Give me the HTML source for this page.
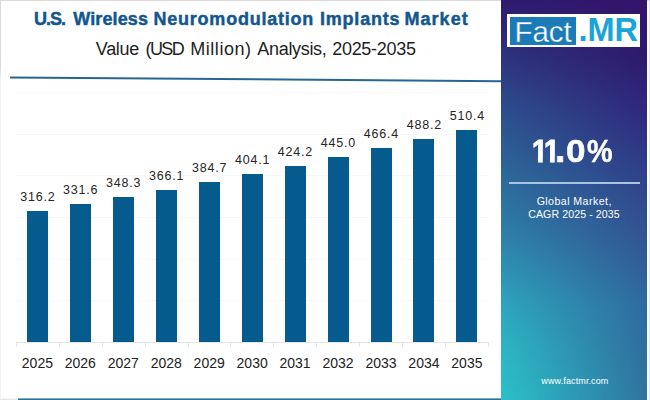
<!DOCTYPE html>
<html><head><meta charset="utf-8">
<style>
*{margin:0;padding:0;box-sizing:border-box}
html,body{width:650px;height:400px;overflow:hidden;background:#fff}
body{position:relative;font-family:"Liberation Sans",Arial,sans-serif}
.frame{position:absolute;left:0;top:0;width:650px;height:400px;border-top:1px solid #dadadc;border-left:1px solid #f2f2f4;border-right:1px solid #e6e6e8}
.lb{position:absolute;left:0;top:0;width:1px;height:80px;background:linear-gradient(180deg,#d8d8da 0%,#dcdcde 85%,#f2f2f4 100%)}
.title{position:absolute;top:8.0px;font-size:18px;font-weight:bold;color:#13578e;white-space:nowrap;line-height:22px;-webkit-text-stroke:0.45px #13578e}
.sub{position:absolute;top:38px;font-size:18px;color:#1e1e1e;white-space:nowrap;line-height:22px}
.panel{position:absolute;left:501px;top:0;width:146px;height:400px;
 background:linear-gradient(180deg,#2e1c6e 0px,#2e3580 60px,#2e4a8a 100px,#2d6799 170px,#2e7eaa 230px,#2ea6bd 305px,#2db6c2 346px,#2cc0c8 394px,#2cc0c8 400px)}
.panel2{position:absolute;left:501px;top:0;width:146px;height:400px;
 background:linear-gradient(180deg,#33146b 0px,#2e1b6c 60px,#30257a 100px,#2f3f88 170px,#33528f 230px,#2f6a9f 305px,#306d9e 346px,#2f74a0 394px,#2f74a0 400px);
 -webkit-mask-image:linear-gradient(90deg,transparent 0%,#000 100%);mask-image:linear-gradient(90deg,transparent 0%,#000 100%)}
.logo{position:absolute;left:506.5px;top:14px;width:133.5px;height:32.5px;background:#fff}
.logo .fb{position:absolute;left:3.5px;top:3px;width:66px;height:27.5px;background:#1a7bb7}
.logo .f{position:absolute;left:8px;top:1px;font-size:29.5px;line-height:33px;color:#fff;letter-spacing:-0.1px;-webkit-text-stroke:0.35px #1a7bb7}
.logo .mr{position:absolute;left:72px;top:-0.5px;font-size:32.5px;line-height:33px;color:#1ba4d8;font-weight:bold}
.cagr{position:absolute;left:501px;width:146px;text-align:center;color:#fff;white-space:nowrap}
.g{position:absolute;top:131.4px;font-size:32px;line-height:40px;font-weight:bold;color:#fff;-webkit-text-stroke:0.45px #fff;transform-origin:0 50%;white-space:nowrap}
.one{-webkit-text-stroke:1px #fff;clip-path:polygon(0 0,20px 0,20px 26.3px,12.4px 26.3px,12.4px 40px,6.9px 40px,6.9px 26.3px,0 26.3px)}
.sep{position:absolute;left:509px;top:182px;width:131px;height:1.5px;background:#a9c3e3}
.bar{position:absolute;width:21px;background:#055a8e}
.vl{position:absolute;width:60px;text-align:center;font-size:12.5px;color:#262626;line-height:14px;letter-spacing:0.8px;text-indent:0.8px}
.xl{position:absolute;width:60px;text-align:center;font-size:14px;color:#222;line-height:16px}
.grid{position:absolute;left:15px;width:473px;height:1px;background:#f8f7f7}
.axis{position:absolute;left:16px;top:342px;width:473px;height:1px;background:#e4e4e4}
.tick{position:absolute;top:342px;width:1px;height:4.5px;background:#e4e4e4}
.bottombar{position:absolute;left:18px;top:398px;width:483px;height:2px;background:linear-gradient(180deg,#76aecb 0,#76aecb 1px,#306e94 1px)}
.blg{position:absolute;left:0;top:398px;width:18px;height:2px;background:linear-gradient(180deg,#f4f4f4 0,#f4f4f4 1px,#e6e6e6 1px)}
</style></head><body>
<div class="frame"></div><div class="lb"></div>
<span class="title" style="left:33.9px;letter-spacing:-0.969px">U.S.</span> <span class="title" style="left:73.2px;letter-spacing:0.133px">Wireless</span> <span class="title" style="left:153.5px;letter-spacing:0.772px">Neuromodulation</span> <span class="title" style="left:319.9px;letter-spacing:0.814px">Implants</span> <span class="title" style="left:404.5px;letter-spacing:1.034px">Market</span>
<span class="sub" style="left:95.8px;letter-spacing:-0.323px">Value</span> <span class="sub" style="left:145.5px;letter-spacing:-1.6px">(USD</span> <span class="sub" style="left:190.3px;letter-spacing:0.527px">Million)</span> <span class="sub" style="left:257.3px;letter-spacing:-0.316px">Analysis,</span> <span class="sub" style="left:332.2px;letter-spacing:-0.284px">2025-2035</span>
<svg style="position:absolute;left:0;top:0" width="650" height="400"><line x1="10" y1="77.4" x2="501" y2="81.2" stroke="#256794" stroke-width="2"/></svg>
<div class="grid" style="top:300px"></div>
<div class="grid" style="top:259px"></div>
<div class="grid" style="top:217px"></div>
<div class="grid" style="top:175px"></div>
<div class="grid" style="top:134px"></div>
<div class="grid" style="top:92px"></div>
<div class="axis"></div>
<div class="tick" style="left:16px"></div>
<div class="tick" style="left:59px"></div>
<div class="tick" style="left:102px"></div>
<div class="tick" style="left:145px"></div>
<div class="tick" style="left:188px"></div>
<div class="tick" style="left:230px"></div>
<div class="tick" style="left:273px"></div>
<div class="tick" style="left:316px"></div>
<div class="tick" style="left:359px"></div>
<div class="tick" style="left:402px"></div>
<div class="tick" style="left:445px"></div>
<div class="tick" style="left:488px"></div>
<div class="bar" style="left:26.90px;top:210.74px;height:131.76px"></div>
<div class="vl" style="left:7.40px;top:189.74px">316.2</div>
<div class="xl" style="left:7.40px;top:355px">2025</div>
<div class="bar" style="left:69.85px;top:204.32px;height:138.18px"></div>
<div class="vl" style="left:50.35px;top:183.32px">331.6</div>
<div class="xl" style="left:50.35px;top:355px">2026</div>
<div class="bar" style="left:112.80px;top:197.36px;height:145.14px"></div>
<div class="vl" style="left:93.30px;top:176.36px">348.3</div>
<div class="xl" style="left:93.30px;top:355px">2027</div>
<div class="bar" style="left:155.75px;top:189.95px;height:152.55px"></div>
<div class="vl" style="left:136.25px;top:168.95px">366.1</div>
<div class="xl" style="left:136.25px;top:355px">2028</div>
<div class="bar" style="left:198.70px;top:182.20px;height:160.30px"></div>
<div class="vl" style="left:179.20px;top:161.20px">384.7</div>
<div class="xl" style="left:179.20px;top:355px">2029</div>
<div class="bar" style="left:241.65px;top:174.11px;height:168.39px"></div>
<div class="vl" style="left:222.15px;top:153.11px">404.1</div>
<div class="xl" style="left:222.15px;top:355px">2030</div>
<div class="bar" style="left:284.60px;top:165.74px;height:176.76px"></div>
<div class="vl" style="left:265.10px;top:144.74px">424.2</div>
<div class="xl" style="left:265.10px;top:355px">2031</div>
<div class="bar" style="left:327.55px;top:157.07px;height:185.43px"></div>
<div class="vl" style="left:308.05px;top:136.07px">445.0</div>
<div class="xl" style="left:308.05px;top:355px">2032</div>
<div class="bar" style="left:370.50px;top:148.15px;height:194.35px"></div>
<div class="vl" style="left:351.00px;top:127.15px">466.4</div>
<div class="xl" style="left:351.00px;top:355px">2033</div>
<div class="bar" style="left:413.45px;top:139.07px;height:203.43px"></div>
<div class="vl" style="left:393.95px;top:118.07px">488.2</div>
<div class="xl" style="left:393.95px;top:355px">2034</div>
<div class="bar" style="left:456.40px;top:129.82px;height:212.68px"></div>
<div class="vl" style="left:436.90px;top:108.82px">510.4</div>
<div class="xl" style="left:436.90px;top:355px">2035</div>
<div class="bottombar"></div><div class="blg"></div>
<div class="panel"></div><div class="panel2"></div>
<div class="logo"><div class="fb"></div><div class="f">Fact</div><div class="mr">.MR</div></div>
<span class="g one" style="left:532px;transform:scaleX(0.87)">1</span><span class="g one" style="left:543.6px;transform:scaleX(0.87)">1</span><span class="g" style="left:554.8px;top:129.3px;font-size:38px">.</span><span class="g" style="left:565.9px;transform:scaleX(1.1)">0</span><span class="g" style="left:586.6px;transform:scaleX(0.9)">%</span>
<div class="sep"></div>
<div class="cagr" style="top:194.5px;font-size:10.6px;line-height:13px;letter-spacing:0.45px;text-indent:0.45px">Global Market,</div>
<div class="cagr" style="top:208.3px;font-size:10.6px;line-height:13px;letter-spacing:0.1px">CAGR 2025 - 2035</div>
<div class="cagr" style="top:376.3px;font-size:9px;line-height:11px;letter-spacing:0.12px;text-indent:1.8px">www.factmr.com</div>
</body></html>
